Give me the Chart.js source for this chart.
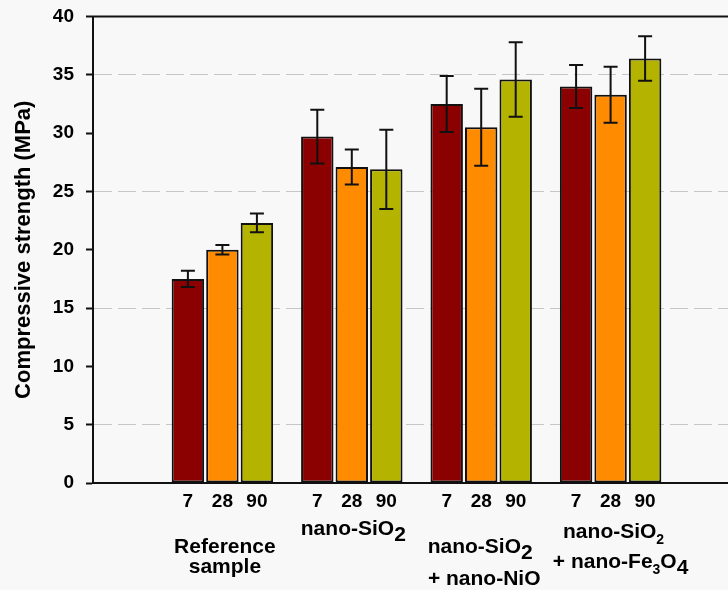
<!DOCTYPE html>
<html>
<head>
<meta charset="utf-8">
<script src="https://cdn.jsdelivr.net/npm/chart.js@4.4.0/dist/chart.umd.min.js"></script>
<style>
  html, body { margin: 0; padding: 0; background: #f8f8f8; overflow: hidden; }
  #wrap { width: 728px; height: 590px; overflow: hidden; }
</style>
</head>
<body>
<div id="wrap"><canvas id="strength" width="740" height="590"></canvas></div>
<script>
// group names, "_x" = small subscript, "__x" = full size subscript
const groups = [['Reference', 'sample'], ['nano-SiO__2'], ['nano-SiO__2', '+ nano-NiO'], ['nano-SiO_2', '+ nano-Fe_3O__4']]
const ages = ['7', '28', '90']

const day7 = [17.5, 29.7, 32.5, 34.0]
const day7Err = [0.7, 2.3, 2.4, 1.85]
const day28 = [20.0, 27.1, 30.5, 33.3]
const day28Err = [0.4, 1.5, 3.3, 2.4]
const day90 = [22.3, 26.9, 34.6, 36.4]
const day90Err = [0.8, 3.4, 3.2, 1.9]

const yTicks = { min: 0, max: 40, step: 5 }

// where each label line sits: [dx from group centre, dy below the x axis]
const labelRows = [[[2.5, 70], [2.5, 89.5]], [[1.5, 51.7]], [[-1, 70], [3, 101.7]], [[3, 55], [10, 85]]]

const fontFamily = '"Liberation Sans", Arial, sans-serif'
Chart.defaults.font.family = fontFamily
Chart.defaults.color = '#000'

// empty slot on both ends so the groups sit where the original put them
const pad = arr => [null, ...arr, null]
const labels = ['', ...groups.map(g => g.join(' ')), '']

function parseRich(str) {
  const parts = []
  let i = 0
  while (i < str.length) {
    if (str.startsWith('__', i)) { parts.push({ t: str[i + 2], kind: 'big' }); i += 3 }
    else if (str[i] === '_') { parts.push({ t: str[i + 1], kind: 'small' }); i += 2 }
    else {
      const last = parts[parts.length - 1]
      if (last && last.kind === 'n') last.t += str[i]
      else parts.push({ t: str[i], kind: 'n' })
      i++
    }
  }
  return parts
}

function drawRich(ctx, str, cx, y) {
  const fonts = { n: 'bold 21px ' + fontFamily, big: 'bold 21px ' + fontFamily, small: 'bold 14px ' + fontFamily }
  const shift = { n: 0, big: 6, small: 6 }
  const parts = parseRich(str)
  let total = 0
  parts.forEach(p => { ctx.font = fonts[p.kind]; p.w = ctx.measureText(p.t).width; total += p.w })
  let x = cx - total / 2
  ctx.textAlign = 'left'
  ctx.textBaseline = 'alphabetic'
  parts.forEach(p => {
    ctx.font = fonts[p.kind]
    ctx.fillText(p.t, x, y + shift[p.kind])
    x += p.w
  })
}

const extras = {
  id: 'extras',
  afterDatasetsDraw(chart) {
    const ctx = chart.ctx
    const y = chart.scales.y
    ctx.save()
    ctx.strokeStyle = '#111'
    ctx.lineWidth = 2
    chart.data.datasets.forEach((ds, d) => {
      const meta = chart.getDatasetMeta(d)
      ds.data.forEach((v, i) => {
        if (v === null) return
        const e = ds.err[i]
        const x = meta.data[i].x
        const top = y.getPixelForValue(v + e)
        const bot = y.getPixelForValue(v - e)
        ctx.beginPath()
        ctx.moveTo(x, top); ctx.lineTo(x, bot)
        ctx.moveTo(x - 7, top); ctx.lineTo(x + 7, top)
        ctx.moveTo(x - 7, bot); ctx.lineTo(x + 7, bot)
        ctx.stroke()
      })
    })
    ctx.restore()
  },
  afterDraw(chart) {
    const ctx = chart.ctx
    const area = chart.chartArea
    const xs = chart.scales.x
    ctx.save()
    // top frame line
    ctx.strokeStyle = '#111'
    ctx.lineWidth = 2
    ctx.beginPath()
    ctx.moveTo(area.left - 1, area.top)
    ctx.lineTo(area.right, area.top)
    ctx.stroke()

    ctx.fillStyle = '#000'
    // curing age under each bar
    ctx.font = 'bold 19px ' + fontFamily
    ctx.textAlign = 'center'
    ctx.textBaseline = 'alphabetic'
    chart.data.datasets.forEach((ds, d) => {
      const meta = chart.getDatasetMeta(d)
      ds.data.forEach((v, i) => {
        if (v === null) return
        ctx.fillText(ages[d], meta.data[i].x, area.bottom + 24.4)
      })
    })
    // group names
    groups.forEach((lines, g) => {
      const cx = xs.getPixelForValue(g + 1)
      lines.forEach((line, r) => {
        const [dx, dy] = labelRows[g][r]
        drawRich(ctx, line, cx + dx, area.bottom + dy)
      })
    })
    ctx.restore()
  }
}

const ctx = document.getElementById('strength').getContext('2d')

const myChart = new Chart(ctx, {
  type: 'bar',
  data: {
    labels: labels,
    datasets: [
      { label: '7', data: pad(day7), err: pad(day7Err), backgroundColor: '#8b0000' },
      { label: '28', data: pad(day28), err: pad(day28Err), backgroundColor: '#ff8c00' },
      { label: '90', data: pad(day90), err: pad(day90Err), backgroundColor: '#b4b400' }
    ]
  },
  options: {
    responsive: false,
    animation: false,
    layout: { padding: { top: 16.5, right: 0, bottom: 107, left: 0 } },
    datasets: {
      bar: {
        borderColor: '#111',
        borderWidth: 2,
        borderSkipped: false,
        categoryPercentage: 0.8,
        barPercentage: 0.94
      }
    },
    plugins: {
      legend: { display: false },
      tooltip: { enabled: false }
    },
    scales: {
      x: {
        offset: false,
        grid: { display: false, drawTicks: false },
        ticks: { display: false },
        border: { color: '#111', width: 2 }
      },
      y: {
        min: yTicks.min,
        max: yTicks.max,
        afterFit: s => { s.width = 93; s.paddingTop = 0; s.paddingBottom = 0 },
        ticks: {
          stepSize: yTicks.step,
          padding: 12,
          font: { size: 19, weight: 'bold' }
        },
        grid: {
          color: c => (c.tick && c.tick.value % 10 === 5) ? '#c6c6c6' : 'rgba(0,0,0,0)',
          lineWidth: 1,
          tickLength: 7,
          tickColor: '#111',
          tickWidth: 2
        },
        border: { color: '#111', width: 2, dash: [18, 6] },
        title: {
          display: true,
          text: 'Compressive strength (MPa)',
          font: { size: 22, weight: 'bold' },
          padding: { top: 11, bottom: 0 }
        }
      }
    }
  },
  plugins: [extras]
})
</script>
</body>
</html>
